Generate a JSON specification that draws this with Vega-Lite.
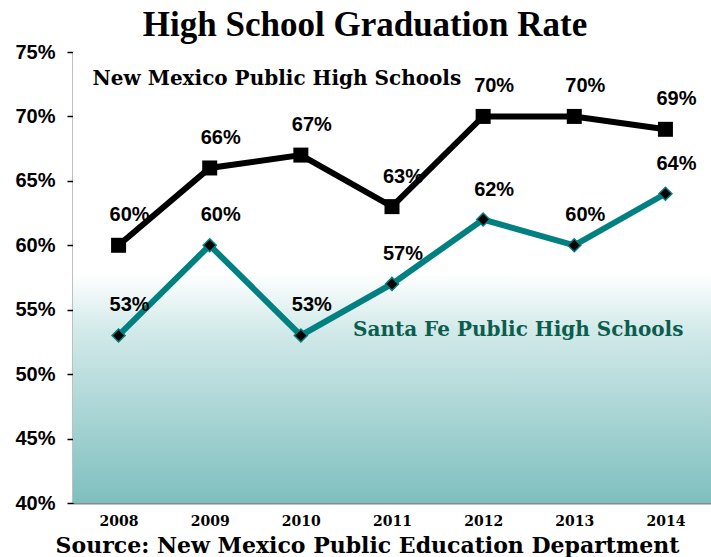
{
  "$schema": "https://vega.github.io/schema/vega-lite/v6.json",
  "width": 638,
  "height": 451,
  "autosize": {"type": "none"},
  "padding": {"left": 73, "top": 52, "right": 0, "bottom": 54},
  "background": "white",
  "view": {"stroke": null},
  "title": {
    "text": "High School Graduation Rate",
    "font": "Liberation Serif",
    "fontSize": 35,
    "fontWeight": "bold",
    "color": "black",
    "anchor": "middle",
    "dx": -27,
    "offset": -1
  },
  "datasets": {
    "rates": [
      {"year": "2008", "school": "New Mexico", "rate": 0.60},
      {"year": "2009", "school": "New Mexico", "rate": 0.66},
      {"year": "2010", "school": "New Mexico", "rate": 0.67},
      {"year": "2011", "school": "New Mexico", "rate": 0.63},
      {"year": "2012", "school": "New Mexico", "rate": 0.70},
      {"year": "2013", "school": "New Mexico", "rate": 0.70},
      {"year": "2014", "school": "New Mexico", "rate": 0.69},
      {"year": "2008", "school": "Santa Fe", "rate": 0.53},
      {"year": "2009", "school": "Santa Fe", "rate": 0.60},
      {"year": "2010", "school": "Santa Fe", "rate": 0.53},
      {"year": "2011", "school": "Santa Fe", "rate": 0.57},
      {"year": "2012", "school": "Santa Fe", "rate": 0.62},
      {"year": "2013", "school": "Santa Fe", "rate": 0.60},
      {"year": "2014", "school": "Santa Fe", "rate": 0.64}
    ]
  },
  "encoding": {
    "x": {
      "field": "year",
      "type": "ordinal",
      "scale": {"type": "point", "padding": 0.5, "domain": ["2008", "2009", "2010", "2011", "2012", "2013", "2014"]},
      "axis": {
        "title": "Source:  New Mexico Public Education Department",
        "titleFont": "DejaVu Serif",
        "titleFontSize": 22,
        "titleFontWeight": "bold",
        "titleColor": "black",
        "titleX": 294,
        "titleY": 49,
        "titleBaseline": "alphabetic",
        "labelFont": "DejaVu Serif",
        "labelFontSize": 14,
        "labelFontWeight": "bold",
        "labelColor": "black",
        "labelAngle": 0,
        "labelPadding": 11,
        "ticks": false,
        "domainColor": "#8a8a8a",
        "domainWidth": 2,
        "grid": false
      }
    },
    "y": {
      "field": "rate",
      "type": "quantitative",
      "scale": {"domain": [0.40, 0.75], "nice": false, "zero": false},
      "axis": {
        "title": null,
        "values": [0.40, 0.45, 0.50, 0.55, 0.60, 0.65, 0.70, 0.75],
        "format": ".0%",
        "labelFont": "Liberation Sans",
        "labelFontSize": 20,
        "labelFontWeight": "bold",
        "labelColor": "black",
        "labelPadding": 12,
        "tickColor": "black",
        "tickSize": 6,
        "tickWidth": 1.5,
        "domainColor": "black",
        "domainWidth": 1.5,
        "grid": false
      }
    }
  },
  "layer": [
    {
      "data": {"values": [{"lo": 0.40, "hi": 0.75}]},
      "mark": {
        "type": "rect",
        "fill": {
          "gradient": "linear",
          "x1": 0, "y1": 0, "x2": 0, "y2": 1,
          "stops": [
            {"offset": 0, "color": "#ffffff"},
            {"offset": 0.49, "color": "#ffffff"},
            {"offset": 0.62, "color": "#d2e9e9"},
            {"offset": 1, "color": "#7fbfbf"}
          ]
        }
      },
      "encoding": {
        "x": {"value": 0},
        "x2": {"value": "width"},
        "y": {"field": "lo", "type": "quantitative"},
        "y2": {"field": "hi"}
      }
    },
    {
      "data": {"name": "rates"},
      "transform": [{"filter": "datum.school === 'New Mexico'"}],
      "mark": {"type": "line", "color": "black", "strokeWidth": 6},
      "encoding": {}
    },
    {
      "data": {"name": "rates"},
      "transform": [{"filter": "datum.school === 'Santa Fe'"}],
      "mark": {"type": "line", "color": "#008080", "strokeWidth": 6},
      "encoding": {}
    },
    {
      "data": {"name": "rates"},
      "transform": [{"filter": "datum.school === 'New Mexico'"}],
      "mark": {"type": "point", "shape": "square", "filled": true, "fill": "black", "size": 225, "opacity": 1},
      "encoding": {}
    },
    {
      "data": {"name": "rates"},
      "transform": [{"filter": "datum.school === 'Santa Fe'"}],
      "mark": {"type": "point", "shape": "diamond", "filled": true, "fill": "black", "stroke": "#008080", "strokeWidth": 1.5, "size": 170, "opacity": 1},
      "encoding": {}
    },
    {
      "data": {"name": "rates"},
      "mark": {
        "type": "text",
        "font": "Liberation Sans",
        "fontSize": 20,
        "fontWeight": "bold",
        "color": "black",
        "dx": 11,
        "dy": -24,
        "baseline": "alphabetic"
      },
      "encoding": {
        "text": {"field": "rate", "type": "quantitative", "format": ".0%"}
      }
    },
    {
      "data": {"values": [{"year": "2008", "rate": 0.729, "label": "New Mexico Public High Schools"}]},
      "mark": {"type": "text", "font": "DejaVu Serif", "fontSize": 20, "fontWeight": "bold", "color": "black", "align": "left", "dx": -26, "baseline": "middle"},
      "encoding": {"text": {"field": "label"}}
    },
    {
      "data": {"values": [{"year": "2011", "rate": 0.534, "label": "Santa Fe Public High Schools"}]},
      "mark": {"type": "text", "font": "DejaVu Serif", "fontSize": 20, "fontWeight": "bold", "color": "#0b5e4e", "align": "left", "dx": -39, "baseline": "middle"},
      "encoding": {"text": {"field": "label"}}
    }
  ]
}
